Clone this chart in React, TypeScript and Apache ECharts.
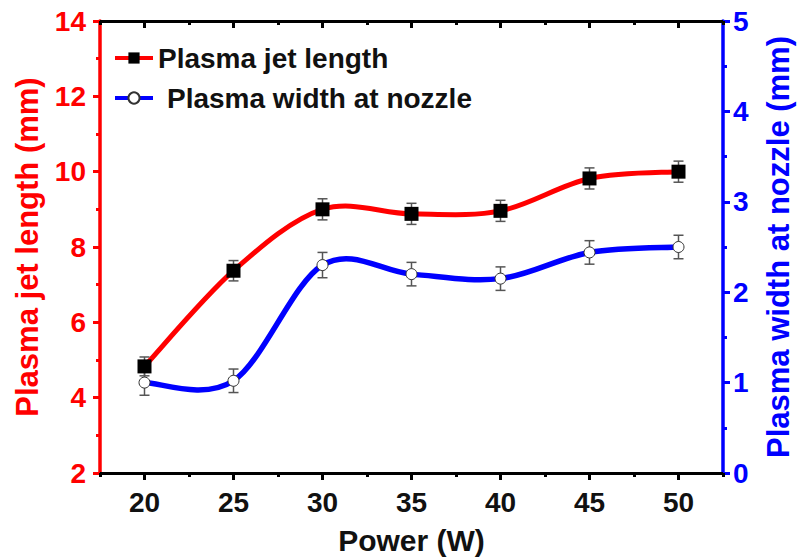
import React, { useEffect, useRef } from "react";
import * as echarts from "echarts";

const power = [20, 25, 30, 35, 40, 45, 50];
const jetLength = [4.83, 7.37, 9.0, 8.88, 8.96, 9.82, 10.0];
const jetLengthErr = [0.25, 0.27, 0.28, 0.28, 0.28, 0.28, 0.28];
const nozzleWidth = [1.0, 1.02, 2.3, 2.2, 2.15, 2.44, 2.5];
const nozzleWidthErr = [0.14, 0.13, 0.14, 0.13, 0.13, 0.13, 0.13];
const xMajorTicks = [20, 25, 30, 35, 40, 45, 50];
const xMinorTicks = [17.5, 22.5, 27.5, 32.5, 37.5, 42.5, 47.5, 52.5];

const FONT = "Liberation Sans, Arial, sans-serif";

function errorBarRenderer() {
  return (params: any, api: any) => {
    const x = api.value(0);
    const y = api.value(1);
    const e = api.value(2);
    const top = api.coord([x, y + e]);
    const bot = api.coord([x, y - e]);
    const cap = 5;
    const style = { stroke: "#555", lineWidth: 1.5 };
    return {
      type: "group",
      children: [
        { type: "line", shape: { x1: top[0], y1: top[1], x2: bot[0], y2: bot[1] }, style },
        { type: "line", shape: { x1: top[0] - cap, y1: top[1], x2: top[0] + cap, y2: top[1] }, style },
        { type: "line", shape: { x1: bot[0] - cap, y1: bot[1], x2: bot[0] + cap, y2: bot[1] }, style },
      ],
    };
  };
}

// Draws a Catmull-Rom spline through the series' points (pixel space from the axes)
function splineRenderer(xs: number[], ys: number[], color: string, width: number) {
  return (params: any, api: any) => {
    if (params.dataIndex !== 0) return null;
    const pts = xs.map((x, i) => api.coord([x, ys[i]]));
    const n = pts.length;
    let d = `M${pts[0][0]},${pts[0][1]}`;
    for (let i = 0; i < n - 1; i++) {
      const p0 = pts[Math.max(i - 1, 0)];
      const p1 = pts[i];
      const p2 = pts[i + 1];
      const p3 = pts[Math.min(i + 2, n - 1)];
      const c1x = p1[0] + (p2[0] - p0[0]) / 6;
      const c1y = p1[1] + (p2[1] - p0[1]) / 6;
      const c2x = p2[0] - (p3[0] - p1[0]) / 6;
      const c2y = p2[1] - (p3[1] - p1[1]) / 6;
      d += ` C${c1x},${c1y} ${c2x},${c2y} ${p2[0]},${p2[1]}`;
    }
    return {
      type: "path",
      shape: { pathData: d },
      style: { stroke: color, lineWidth: width, fill: "none", lineCap: "round", lineJoin: "round" },
    };
  };
}

export default function App() {
  const ref = useRef<HTMLDivElement>(null);
  useEffect(() => {
    document.body.style.margin = "0";
    const chart = echarts.init(ref.current!, undefined, { renderer: "svg" });
    const xBase = { type: "value", min: 17.5, max: 52.5, splitLine: { show: false } };
    const option: any = {
      animation: false,
      backgroundColor: "#ffffff",
      grid: { left: 100, right: 69, top: 21, bottom: 84 },
      legend: {
        orient: "vertical",
        left: 108,
        top: 39,
        itemWidth: 38,
        itemHeight: 14,
        itemGap: 12,
        lineStyle: { opacity: 1, width: 4 },
        textStyle: { fontFamily: FONT, fontWeight: "bold", fontSize: 28, color: "#111" },
        data: [
          { name: "Plasma jet length", lineStyle: { color: "#ff0000", width: 4, opacity: 1 } },
          {
            name: "Plasma width at nozzle",
            lineStyle: { color: "#0000ff", width: 4, opacity: 1 },
            textStyle: { padding: [0, 0, 0, 9] },
          },
        ],
      },
      xAxis: [
        {
          ...xBase,
          position: "bottom",
          name: "Power (W)",
          nameLocation: "middle",
          nameGap: 52,
          nameTextStyle: { fontFamily: FONT, fontWeight: "bold", fontSize: 30, color: "#111" },
          axisLine: { show: true, onZero: false, lineStyle: { color: "#000", width: 3 } },
          axisTick: { show: true, customValues: xMajorTicks, length: 7, lineStyle: { color: "#000", width: 3 } },
          axisLabel: {
            customValues: xMajorTicks,
            margin: 15,
            fontFamily: FONT,
            fontWeight: "bold",
            fontSize: 28,
            color: "#111",
          },
        },
        {
          ...xBase,
          position: "bottom",
          axisLine: { show: false, onZero: false },
          axisTick: { show: true, customValues: xMinorTicks, length: 4, lineStyle: { color: "#000", width: 3 } },
          axisLabel: { show: false },
        },
        {
          ...xBase,
          position: "top",
          axisLine: { show: true, onZero: false, lineStyle: { color: "#000", width: 3 } },
          axisTick: { show: true, inside: true, customValues: xMajorTicks, length: 7, lineStyle: { color: "#000", width: 3 } },
          axisLabel: { show: false },
        },
        {
          ...xBase,
          position: "top",
          axisLine: { show: false, onZero: false },
          axisTick: { show: true, inside: true, customValues: xMinorTicks, length: 4, lineStyle: { color: "#000", width: 3 } },
          axisLabel: { show: false },
        },
      ],
      yAxis: [
        {
          type: "value",
          position: "left",
          min: 2,
          max: 14,
          interval: 2,
          name: "Plasma jet length (mm)",
          nameLocation: "middle",
          nameGap: 57,
          nameTextStyle: { fontFamily: FONT, fontWeight: "bold", fontSize: 31, color: "#ff0000" },
          splitLine: { show: false },
          axisLine: { show: true, onZero: false, lineStyle: { color: "#ff0000", width: 3.5 } },
          axisTick: { show: true, length: 7, lineStyle: { color: "#ff0000", width: 3 } },
          minorTick: { show: true, splitNumber: 2, length: 4, lineStyle: { color: "#ff0000", width: 3 } },
          axisLabel: { margin: 14, fontFamily: FONT, fontWeight: "bold", fontSize: 28, color: "#ff0000" },
        },
        {
          type: "value",
          position: "right",
          min: 0,
          max: 5,
          interval: 1,
          name: "Plasma width at nozzle (mm)",
          nameLocation: "middle",
          nameGap: 40,
          nameRotate: 90,
          nameTextStyle: { fontFamily: FONT, fontWeight: "bold", fontSize: 31, color: "#0000ff" },
          splitLine: { show: false },
          axisLine: { show: true, onZero: false, lineStyle: { color: "#0000ff", width: 3.5 } },
          axisTick: { show: true, length: 7, lineStyle: { color: "#0000ff", width: 3 } },
          minorTick: { show: true, splitNumber: 2, length: 4, lineStyle: { color: "#0000ff", width: 3 } },
          axisLabel: { margin: 10, fontFamily: FONT, fontWeight: "bold", fontSize: 28, color: "#0000ff" },
        },
      ],
      series: [
        {
          type: "custom",
          name: "jetCurve",
          xAxisIndex: 0,
          yAxisIndex: 0,
          z: 1,
          silent: true,
          renderItem: splineRenderer(power, jetLength, "#ff0000", 5),
          encode: { x: 0, y: 1 },
          data: power.map((p, i) => [p, jetLength[i]]),
        },
        {
          type: "custom",
          name: "widthCurve",
          xAxisIndex: 0,
          yAxisIndex: 1,
          z: 1,
          silent: true,
          renderItem: splineRenderer(power, nozzleWidth, "#0000ff", 5.5),
          encode: { x: 0, y: 1 },
          data: power.map((p, i) => [p, nozzleWidth[i]]),
        },
        {
          type: "custom",
          name: "jetErr",
          xAxisIndex: 0,
          yAxisIndex: 0,
          z: 2,
          renderItem: errorBarRenderer(),
          encode: { x: 0, y: 1 },
          data: power.map((p, i) => [p, jetLength[i], jetLengthErr[i]]),
        },
        {
          type: "custom",
          name: "widthErr",
          xAxisIndex: 0,
          yAxisIndex: 1,
          z: 2,
          renderItem: errorBarRenderer(),
          encode: { x: 0, y: 1 },
          data: power.map((p, i) => [p, nozzleWidth[i], nozzleWidthErr[i]]),
        },
        {
          type: "line",
          name: "Plasma jet length",
          xAxisIndex: 0,
          yAxisIndex: 0,
          z: 3,
          symbol: "rect",
          symbolSize: 14,
          lineStyle: { color: "#ff0000", width: 4, opacity: 0 },
          itemStyle: { color: "#000000", borderColor: "#000000", borderWidth: 0 },
          data: power.map((p, i) => [p, jetLength[i]]),
        },
        {
          type: "line",
          name: "Plasma width at nozzle",
          xAxisIndex: 0,
          yAxisIndex: 1,
          z: 3,
          symbol: "circle",
          symbolSize: 11,
          showSymbol: true,
          lineStyle: { color: "#0000ff", width: 4, opacity: 0 },
          itemStyle: { color: "#ffffff", borderColor: "#333333", borderWidth: 1 },
          data: power.map((p, i) => [p, nozzleWidth[i]]),
        },
      ],
    };
    chart.setOption(option);
    return () => chart.dispose();
  }, []);
  return <div ref={ref} style={{ width: 802, height: 560 }} />;
}
